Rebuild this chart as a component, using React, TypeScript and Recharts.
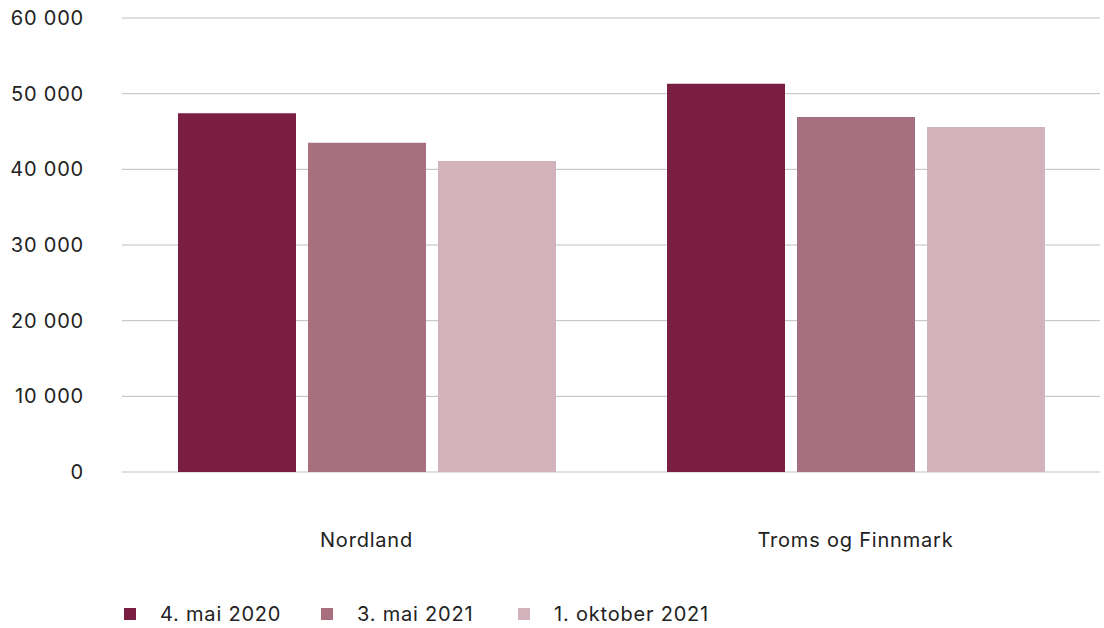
import { BarChart, Bar, XAxis, YAxis, CartesianGrid, Legend } from "recharts";

/* ---------- DATA ---------- */

const regions = ["Nordland", "Troms og Finnmark"];
const may2020 = [47400, 51300];
const may2021 = [43500, 46900];
const oct2021 = [41100, 45600];
const yTicks = [0, 10000, 20000, 30000, 40000, 50000, 60000];

const seriesNames = ["4. mai 2020", "3. mai 2021", "1. oktober 2021"];
const colors = ["#7a1f42", "#a8707f", "#d2b3bb"];

const chartData = regions.map((region, i) => ({
  region,
  s0: may2020[i],
  s1: may2021[i],
  s2: oct2021[i],
}));

const font = "Inter, 'Noto Sans', sans-serif";
const textStyle = { fill: "#222", fontSize: 20, fontFamily: font, letterSpacing: 0.8 };

function formatTick(v: number) {
  return v === 0 ? "0" : v.toLocaleString("en-US").replace(/,/g, " ");
}

/* ---------- LEGEND ---------- */

function CustomLegend() {
  return (
    <div style={{ display: "flex", height: 46, paddingLeft: 124, fontFamily: font, fontSize: 20, letterSpacing: 0.8, color: "#222" }}>
      {seriesNames.map((name, i) => (
        <div key={name} style={{ display: "flex", alignItems: "center", width: 197, height: 30, marginTop: 17 }}>
          <span style={{ width: 12, height: 12, background: colors[i], display: "inline-block", marginRight: 24, flexShrink: 0 }} />
          <span style={{ whiteSpace: "nowrap" }}>{name}</span>
        </div>
      ))}
    </div>
  );
}

export default function App() {
  return (
    <div>
      <style>{`body{margin:0;background:#fff}`}</style>
      <BarChart
        width={1104}
        height={628}
        data={chartData}
        margin={{ top: 18, right: 4, left: 0, bottom: 0 }}
        barSize={118}
        barGap={12}
      >
        <CartesianGrid vertical={false} stroke="#bfbfbf" />
        <XAxis
          dataKey="region"
          axisLine={false}
          tickLine={false}
          tickSize={0}
          tickMargin={61}
          height={110}
          tick={textStyle}
        />
        <YAxis
          domain={[0, 60000]}
          ticks={yTicks}
          axisLine={false}
          tickLine={false}
          tickSize={0}
          tickMargin={38}
          width={122}
          tickFormatter={formatTick}
          tick={textStyle}
        />
        <Legend verticalAlign="bottom" height={46} content={<CustomLegend />} />
        <Bar dataKey="s0" name={seriesNames[0]} fill={colors[0]} isAnimationActive={false} />
        <Bar dataKey="s1" name={seriesNames[1]} fill={colors[1]} isAnimationActive={false} />
        <Bar dataKey="s2" name={seriesNames[2]} fill={colors[2]} isAnimationActive={false} />
      </BarChart>
    </div>
  );
}
